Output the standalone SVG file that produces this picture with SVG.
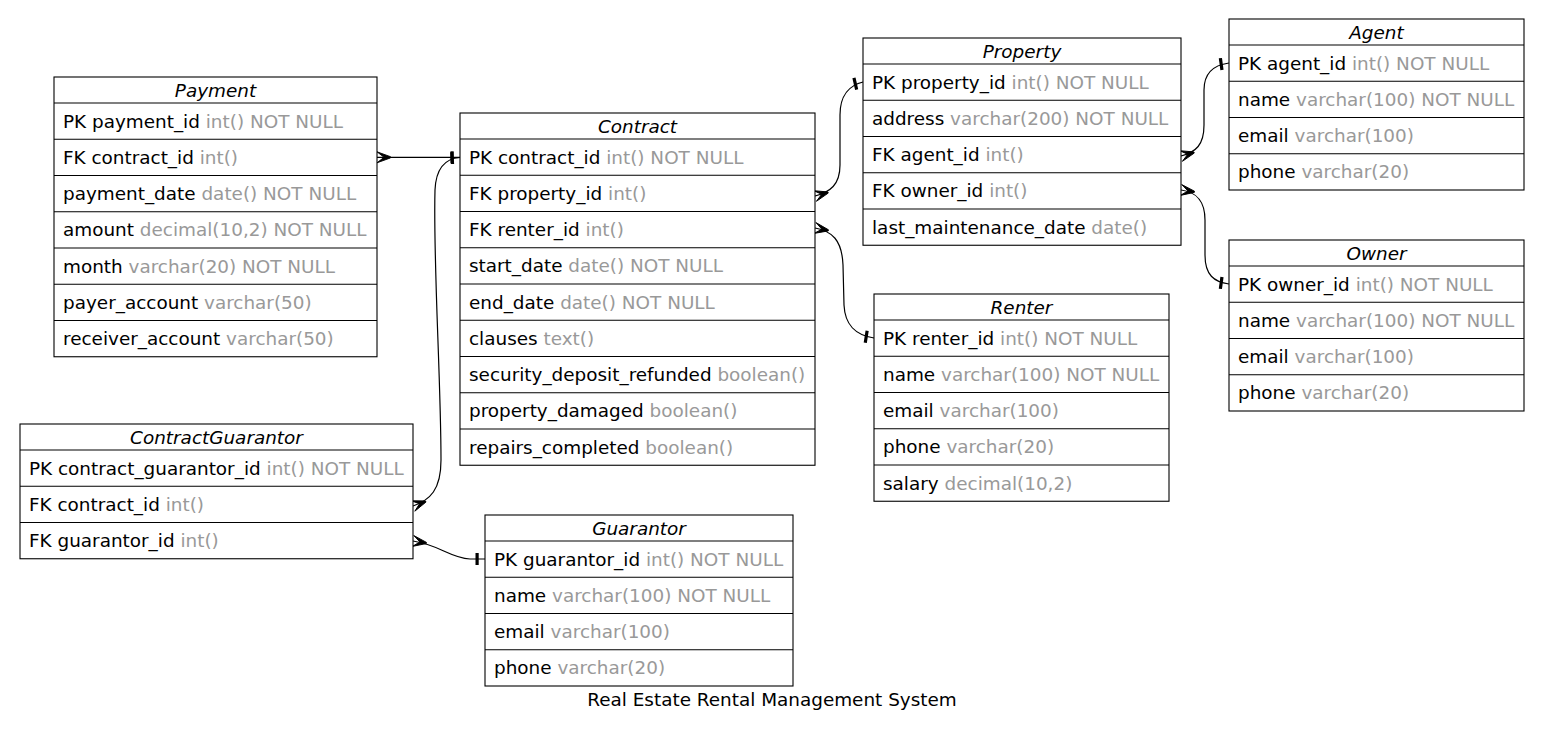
<svg xmlns="http://www.w3.org/2000/svg" width="1544" height="736" viewBox="0 0 1544 736">
  <style>
    text { font-family: "DejaVu Sans", "Liberation Sans", sans-serif; font-size: 18.4px; fill: #000; }
    .title { font-style: italic; text-anchor: middle; }
    .t { fill: #999999; }
    .box { fill: #fff; stroke: #000; stroke-width: 1.1; }
    .sep { stroke: #000; stroke-width: 1.1; }
    .edge { fill: none; stroke: #000; stroke-width: 1.2; marker-start: url(#crow); marker-end: url(#tee); }
    .caption { text-anchor: middle; }
  </style>
  <defs>
    <!-- many-side crow's foot, pointing along the path away from the entity -->
    <marker id="crow" markerUnits="userSpaceOnUse" viewBox="-1 -8 18 16" refX="0" refY="0" markerWidth="18" markerHeight="16" orient="auto" overflow="visible">
      <path d="M0,-5.5 L13.5,-0.6 L13.5,0.6 L0,5.5 L7,0 Z" fill="#000" stroke="#000" stroke-width="0.9"/>
    </marker>
    <!-- one-side bar near the referenced key -->
    <marker id="tee" markerUnits="userSpaceOnUse" viewBox="-14 -8 16 16" refX="0" refY="0" markerWidth="16" markerHeight="16" orient="auto" overflow="visible">
      <rect x="-9.5" y="-6" width="3.2" height="12" fill="#000"/>
    </marker>
  </defs>
  <rect width="1544" height="736" fill="#fff"/>

  <g id="connectors">
    <path class="edge" d="M377,157.3 L460,157.3"/>
    <path class="edge" d="M413,506 C430,500 441,490 441,460 C441,380 433,260 435,190 C436,168 445,158.5 460,157.5"/>
    <path class="edge" d="M413,541 C440,545 450,558 470,559 L485,559"/>
    <path class="edge" d="M815,196 C830,192 840,185 840,165 L840,115 C840,95 850,85 863,82"/>
    <path class="edge" d="M815,228 C832,231 842,240 843,265 L844,305 C845,325 855,335 874,338"/>
    <path class="edge" d="M1181,156 C1196,152 1204,145 1204,125 L1204,90 C1204,72 1214,65 1229,63"/>
    <path class="edge" d="M1181,190 C1196,192 1205,200 1205,220 L1205,255 C1205,275 1214,282 1229,284"/>
  </g>

  <g id="payment" transform="translate(54,77)">
    <rect class="box" x="0" y="0" width="323" height="279.75"/>
    <path class="sep" d="M0,26H323M0,62.25H323M0,98.5H323M0,134.75H323M0,171H323M0,207.25H323M0,243.5H323"/>
    <text class="title" x="161.5" y="19.5">Payment</text>
    <text x="9" y="50.6">PK payment_id <tspan class="t">int() NOT NULL</tspan></text>
    <text x="9" y="86.85">FK contract_id <tspan class="t">int()</tspan></text>
    <text x="9" y="123.1">payment_date <tspan class="t">date() NOT NULL</tspan></text>
    <text x="9" y="159.35">amount <tspan class="t">decimal(10,2) NOT NULL</tspan></text>
    <text x="9" y="195.6">month <tspan class="t">varchar(20) NOT NULL</tspan></text>
    <text x="9" y="231.85">payer_account <tspan class="t">varchar(50)</tspan></text>
    <text x="9" y="268.1">receiver_account <tspan class="t">varchar(50)</tspan></text>
  </g>

  <g id="contract" transform="translate(460,113)">
    <rect class="box" x="0" y="0" width="355" height="352.25"/>
    <path class="sep" d="M0,26H355M0,62.25H355M0,98.5H355M0,134.75H355M0,171H355M0,207.25H355M0,243.5H355M0,279.75H355M0,316H355"/>
    <text class="title" x="177.5" y="19.5">Contract</text>
    <text x="9" y="50.6">PK contract_id <tspan class="t">int() NOT NULL</tspan></text>
    <text x="9" y="86.85">FK property_id <tspan class="t">int()</tspan></text>
    <text x="9" y="123.1">FK renter_id <tspan class="t">int()</tspan></text>
    <text x="9" y="159.35">start_date <tspan class="t">date() NOT NULL</tspan></text>
    <text x="9" y="195.6">end_date <tspan class="t">date() NOT NULL</tspan></text>
    <text x="9" y="231.85">clauses <tspan class="t">text()</tspan></text>
    <text x="9" y="268.1">security_deposit_refunded <tspan class="t">boolean()</tspan></text>
    <text x="9" y="304.35">property_damaged <tspan class="t">boolean()</tspan></text>
    <text x="9" y="340.6">repairs_completed <tspan class="t">boolean()</tspan></text>
  </g>

  <g id="property" transform="translate(863,38)">
    <rect class="box" x="0" y="0" width="318" height="207.25"/>
    <path class="sep" d="M0,26H318M0,62.25H318M0,98.5H318M0,134.75H318M0,171H318"/>
    <text class="title" x="159" y="19.5">Property</text>
    <text x="9" y="50.6">PK property_id <tspan class="t">int() NOT NULL</tspan></text>
    <text x="9" y="86.85">address <tspan class="t">varchar(200) NOT NULL</tspan></text>
    <text x="9" y="123.1">FK agent_id <tspan class="t">int()</tspan></text>
    <text x="9" y="159.35">FK owner_id <tspan class="t">int()</tspan></text>
    <text x="9" y="195.6">last_maintenance_date <tspan class="t">date()</tspan></text>
  </g>

  <g id="agent" transform="translate(1229,19)">
    <rect class="box" x="0" y="0" width="295" height="171"/>
    <path class="sep" d="M0,26H295M0,62.25H295M0,98.5H295M0,134.75H295"/>
    <text class="title" x="147.5" y="19.5">Agent</text>
    <text x="9" y="50.6">PK agent_id <tspan class="t">int() NOT NULL</tspan></text>
    <text x="9" y="86.85">name <tspan class="t">varchar(100) NOT NULL</tspan></text>
    <text x="9" y="123.1">email <tspan class="t">varchar(100)</tspan></text>
    <text x="9" y="159.35">phone <tspan class="t">varchar(20)</tspan></text>
  </g>

  <g id="owner" transform="translate(1229,240)">
    <rect class="box" x="0" y="0" width="295" height="171"/>
    <path class="sep" d="M0,26H295M0,62.25H295M0,98.5H295M0,134.75H295"/>
    <text class="title" x="147.5" y="19.5">Owner</text>
    <text x="9" y="50.6">PK owner_id <tspan class="t">int() NOT NULL</tspan></text>
    <text x="9" y="86.85">name <tspan class="t">varchar(100) NOT NULL</tspan></text>
    <text x="9" y="123.1">email <tspan class="t">varchar(100)</tspan></text>
    <text x="9" y="159.35">phone <tspan class="t">varchar(20)</tspan></text>
  </g>

  <g id="renter" transform="translate(874,294)">
    <rect class="box" x="0" y="0" width="295" height="207.25"/>
    <path class="sep" d="M0,26H295M0,62.25H295M0,98.5H295M0,134.75H295M0,171H295"/>
    <text class="title" x="147.5" y="19.5">Renter</text>
    <text x="9" y="50.6">PK renter_id <tspan class="t">int() NOT NULL</tspan></text>
    <text x="9" y="86.85">name <tspan class="t">varchar(100) NOT NULL</tspan></text>
    <text x="9" y="123.1">email <tspan class="t">varchar(100)</tspan></text>
    <text x="9" y="159.35">phone <tspan class="t">varchar(20)</tspan></text>
    <text x="9" y="195.6">salary <tspan class="t">decimal(10,2)</tspan></text>
  </g>

  <g id="contract-guarantor" transform="translate(20,424)">
    <rect class="box" x="0" y="0" width="393" height="134.75"/>
    <path class="sep" d="M0,26H393M0,62.25H393M0,98.5H393"/>
    <text class="title" x="196.5" y="19.5">ContractGuarantor</text>
    <text x="9" y="50.6">PK contract_guarantor_id <tspan class="t">int() NOT NULL</tspan></text>
    <text x="9" y="86.85">FK contract_id <tspan class="t">int()</tspan></text>
    <text x="9" y="123.1">FK guarantor_id <tspan class="t">int()</tspan></text>
  </g>

  <g id="guarantor" transform="translate(485,515)">
    <rect class="box" x="0" y="0" width="308" height="171"/>
    <path class="sep" d="M0,26H308M0,62.25H308M0,98.5H308M0,134.75H308"/>
    <text class="title" x="154" y="19.5">Guarantor</text>
    <text x="9" y="50.6">PK guarantor_id <tspan class="t">int() NOT NULL</tspan></text>
    <text x="9" y="86.85">name <tspan class="t">varchar(100) NOT NULL</tspan></text>
    <text x="9" y="123.1">email <tspan class="t">varchar(100)</tspan></text>
    <text x="9" y="159.35">phone <tspan class="t">varchar(20)</tspan></text>
  </g>

  <text class="caption" x="772" y="706">Real Estate Rental Management System</text>
</svg>
